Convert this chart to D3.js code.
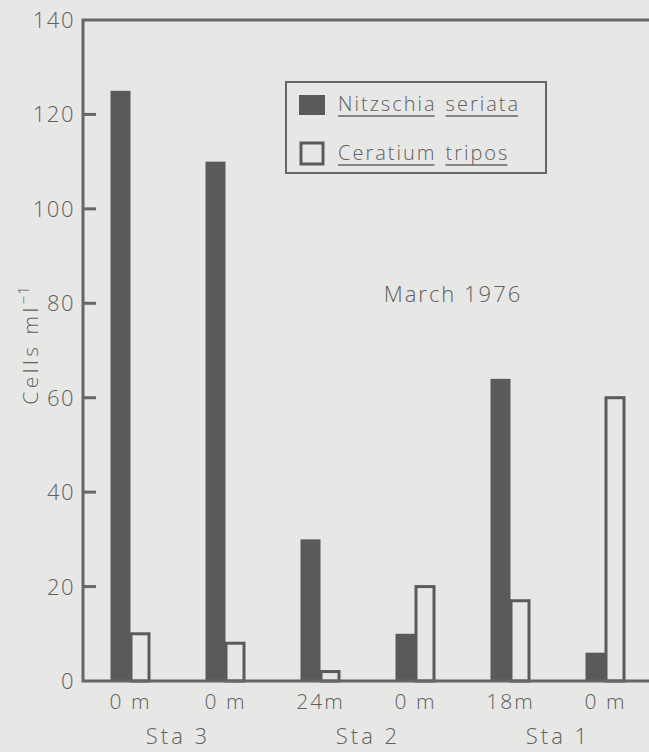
<!DOCTYPE html>
<html>
<head>
<meta charset="utf-8">
<script src="https://cdn.jsdelivr.net/npm/d3@7"></script>
<style>
  body { margin: 0; background: #e7e7e5; }
  text { font-family: "Open Sans", sans-serif; font-weight: 300; fill: #606060; }
</style>
</head>
<body>
<div id="chart"></div>
<script>
// data
var depths = ["0 m", "0 m", "24m", "0 m", "18m", "0 m"];
var stations = ["Sta 3", "Sta 2", "Sta 1"];
var nitzschia = [125, 110, 30, 10, 64, 6];
var ceratium = [10, 8, 2, 20, 17, 60];
var yTicks = [0, 20, 40, 60, 80, 100, 120, 140];

var W = 649, H = 752;
var bg = "#e7e7e5", ink = "#5a5a5a", axisInk = "#666";

var svg = d3.select("#chart").append("svg")
    .attr("width", W)
    .attr("height", H);

svg.append("rect").attr("width", W).attr("height", H).attr("fill", bg);

var x = d3.scaleBand()
    .domain(d3.range(depths.length))
    .range([83, 653])
    .padding(0);
var y = d3.scaleLinear()
    .domain([0, 140])
    .range([681, 20]);

var barW = 19;

// bars
svg.selectAll(".dark")
    .data(nitzschia)
    .enter().append("rect")
    .attr("class", "dark")
    .attr("x", function (d, i) { return x(i) + x.bandwidth() / 2 - barW - 1; })
    .attr("y", function (d) { return y(d); })
    .attr("width", barW + 1)
    .attr("height", function (d) { return y(0) - y(d); })
    .attr("fill", ink);

svg.selectAll(".open")
    .data(ceratium)
    .enter().append("rect")
    .attr("class", "open")
    .attr("x", function (d, i) { return x(i) + x.bandwidth() / 2 + 0.5; })
    .attr("y", function (d) { return y(d); })
    .attr("width", barW - 1)
    .attr("height", function (d) { return y(0) - y(d); })
    .attr("fill", "none")
    .attr("stroke", ink)
    .attr("stroke-width", 3);

// frame
svg.append("path")
    .attr("d", "M649," + y(140) + "H83V" + y(0) + "H649")
    .attr("fill", "none")
    .attr("stroke", axisInk)
    .attr("stroke-width", 3);

// y ticks
svg.selectAll(".tick")
    .data(yTicks.filter(function (d) { return d > 0 && d < 140; }))
    .enter().append("line")
    .attr("x1", 83).attr("x2", 96)
    .attr("y1", function (d) { return y(d); })
    .attr("y2", function (d) { return y(d); })
    .attr("stroke", axisInk)
    .attr("stroke-width", 3);

svg.selectAll(".ylab")
    .data(yTicks)
    .enter().append("text")
    .attr("x", 75)
    .attr("y", function (d) { return y(d) + 8; })
    .attr("text-anchor", "end")
    .attr("font-size", 22)
    .attr("letter-spacing", 1.5)
    .text(function (d) { return d; });

// y title
var yt = svg.append("text")
    .attr("transform", "translate(38,345) rotate(-90)")
    .attr("text-anchor", "middle")
    .attr("font-size", 21)
    .attr("letter-spacing", 3.5);
yt.append("tspan").text("Cells ml");
yt.append("tspan").attr("dy", -9).attr("font-size", 15).attr("letter-spacing", 1).text("−1");

// x labels
svg.selectAll(".xlab")
    .data(depths)
    .enter().append("text")
    .attr("x", function (d, i) { return x(i) + x.bandwidth() / 2; })
    .attr("y", 709)
    .attr("text-anchor", "middle")
    .attr("font-size", 21)
    .attr("letter-spacing", 2)
    .text(function (d) { return d; });

svg.selectAll(".sta")
    .data(stations)
    .enter().append("text")
    .attr("x", function (d, i) { return x(2 * i) + x.bandwidth(); })
    .attr("y", 744)
    .attr("text-anchor", "middle")
    .attr("font-size", 22)
    .attr("letter-spacing", 3)
    .text(function (d) { return d; });

svg.append("text")
    .attr("x", 453)
    .attr("y", 302)
    .attr("text-anchor", "middle")
    .attr("font-size", 22)
    .attr("letter-spacing", 2)
    .text("March 1976");

// legend
var lg = svg.append("g");
lg.append("rect")
    .attr("x", 286).attr("y", 82)
    .attr("width", 260).attr("height", 91)
    .attr("fill", "none")
    .attr("stroke", axisInk)
    .attr("stroke-width", 2);
lg.append("rect")
    .attr("x", 299).attr("y", 95)
    .attr("width", 26).attr("height", 20)
    .attr("fill", ink);
lg.append("rect")
    .attr("x", 301).attr("y", 143)
    .attr("width", 22).attr("height", 21)
    .attr("fill", "none")
    .attr("stroke", ink)
    .attr("stroke-width", 3);

function underlined(words, x0, base) {
    var cx = x0;
    words.forEach(function (w) {
        var t = lg.append("text")
            .attr("x", cx)
            .attr("y", base)
            .attr("font-size", 20)
            .attr("letter-spacing", 2)
            .text(w);
        var len = t.node().getComputedTextLength();
        lg.append("line")
            .attr("x1", cx).attr("x2", cx + len - 2)
            .attr("y1", base + 5).attr("y2", base + 5)
            .attr("stroke", axisInk)
            .attr("stroke-width", 1.5);
        cx += len + 9;
    });
}
underlined(["Nitzschia", "seriata"], 338, 111);
underlined(["Ceratium", "tripos"], 338, 160);
</script>
</body>
</html>
